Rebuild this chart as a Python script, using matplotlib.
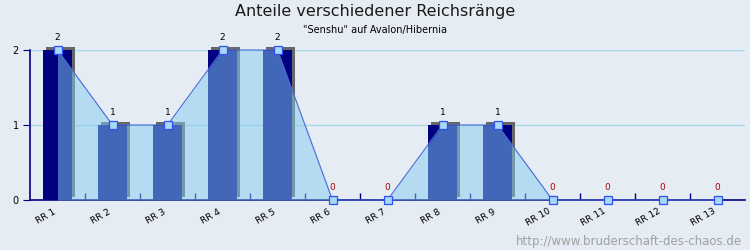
import matplotlib
matplotlib.use('Agg')
import matplotlib.pyplot as plt
import matplotlib.transforms as mtransforms
import numpy as np

# Anteile der Reichsränge
kategorien = ['RR 1', 'RR 2', 'RR 3', 'RR 4', 'RR 5', 'RR 6', 'RR 7',
              'RR 8', 'RR 9', 'RR 10', 'RR 11', 'RR 12', 'RR 13']
anzahl = [2, 1, 1, 2, 2, 0, 0, 1, 1, 0, 0, 0, 0]

hintergrund = '#e6ecf3'
achse = '#000080'

fig = plt.figure(figsize=(7.5, 2.5), dpi=100, facecolor=hintergrund)
ax = fig.add_axes([30 / 750, 0.2, 715 / 750, 0.6], facecolor=hintergrund)

x = np.arange(len(kategorien))
werte = np.array(anzahl)

# Balken mit Schatten (3D-Effekt)
breite = 0.53
dx, dy = 0.055, 0.04
ax.bar(x + dx, werte, width=breite, bottom=dy, color='#666666', zorder=2, clip_on=False)
ax.bar(x, werte, width=breite, color='#000080', zorder=3, clip_on=False)

# Flächenplot darüber
ax.fill_between(x, werte, 0, color=(132 / 255, 204 / 255, 240 / 255), alpha=0.5, lw=0, zorder=4)
ax.plot(x, werte, color='#4a6ad8', lw=0.8, zorder=5, marker='s', markersize=5.5,
        markerfacecolor='#a6d8f8', markeredgecolor='#3050f0', markeredgewidth=0.9, clip_on=False)

for xi, v in zip(x, werte):
    ax.annotate(str(v), (xi, v), xytext=(0, 9), textcoords='offset points',
                ha='center', va='center', fontsize=6.5,
                color='#aa0000' if v == 0 else 'black', zorder=6)

ax.set_xlim(-0.5, len(kategorien) - 0.5)
ax.set_ylim(0, 2)

ax.set_yticks([0, 1, 2])
ax.yaxis.grid(True, color='#a8d8e8', lw=1)
ax.set_axisbelow(True)
ax.tick_params(axis='y', direction='out', length=5, color=achse, labelsize=7, pad=3)

ax.set_xticks(x)
ax.set_xticklabels(kategorien, rotation=30, ha='right', va='top', rotation_mode='anchor', fontsize=6.5)
ax.tick_params(axis='x', which='major', length=0, pad=5)
verschiebung = mtransforms.ScaledTranslation(-5 / 100, 0, fig.dpi_scale_trans)
for lbl in ax.get_xticklabels():
    lbl.set_transform(lbl.get_transform() + verschiebung)
ax.set_xticks(np.arange(0.5, len(kategorien) - 0.5), minor=True)
ax.tick_params(axis='x', which='minor', direction='in', length=5, color=achse, width=1)

for s in ['top', 'right']:
    ax.spines[s].set_visible(False)
for s in ['left', 'bottom']:
    ax.spines[s].set_color(achse)
    ax.spines[s].set_linewidth(1.2)

fig.text(0.5, 0.955, 'Anteile verschiedener Reichsränge', ha='center', va='center',
         fontsize=11.5, color='#1a1a1a')
fig.text(0.5, 0.878, '"Senshu" auf Avalon/Hibernia', ha='center', va='center', fontsize=7)
fig.text(0.989, 0.036, 'http://www.bruderschaft-des-chaos.de', ha='right', va='center',
         fontsize=8.5, color='#a0a0a0')

fig.savefig('out.png', dpi=100, facecolor=hintergrund)
